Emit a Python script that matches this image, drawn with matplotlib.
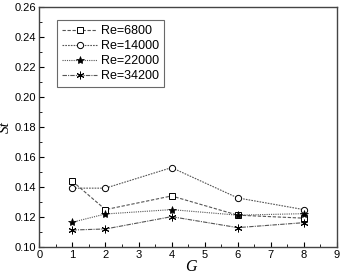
import matplotlib
matplotlib.use("Agg")
import matplotlib.pyplot as plt
from matplotlib.ticker import MultipleLocator

# ── data ──
G = [1, 2, 4, 6, 8]
st_6800 = [0.1436, 0.1247, 0.1338, 0.1210, 0.1190]
st_14000 = [0.1390, 0.1390, 0.1527, 0.1325, 0.1247]
st_22000 = [0.1163, 0.1218, 0.1247, 0.1210, 0.1220]
st_34200 = [0.1111, 0.1118, 0.1200, 0.1127, 0.1160]
labels = ["Re=6800", "Re=14000", "Re=22000", "Re=34200"]

plt.rcParams["font.family"] = ["Liberation Sans", "DejaVu Sans"]
fig = plt.figure(figsize=(3.42, 2.75), dpi=100)
ax = fig.add_axes([0.115, 0.103, 0.87, 0.873])

lc = "#555555"
ax.plot(G, st_6800, ls=(0, (3, 1.5)), lw=0.8, color=lc, marker="s", ms=4.5,
        mfc="white", mec="black", mew=0.7, label=labels[0])
ax.plot(G, st_14000, ls=(0, (1.5, 1)), lw=0.8, color=lc, marker="o", ms=4.5,
        mfc="white", mec="black", mew=0.7, label=labels[1])
ax.plot(G, st_22000, ls=(0, (1, 1)), lw=0.8, color=lc, marker="*", ms=6,
        mfc="black", mec="black", mew=0.5, label=labels[2])
ax.plot(G, st_34200, ls=(0, (4, 1, 1, 1)), lw=0.8, color=lc, marker=(6, 2, 0), ms=5.5,
        mfc="black", mec="black", mew=0.7, label=labels[3])

ax.set_xlim(0, 9)
ax.set_ylim(0.10, 0.26)
ax.xaxis.set_major_locator(MultipleLocator(1))
ax.xaxis.set_minor_locator(MultipleLocator(0.5))
ax.yaxis.set_major_locator(MultipleLocator(0.02))
ax.yaxis.set_minor_locator(MultipleLocator(0.01))
ax.yaxis.set_major_formatter(matplotlib.ticker.FormatStrFormatter("%.2f"))
ax.tick_params(which="both", direction="in", top=False, right=False, labelsize=8, pad=2.5)
ax.tick_params(which="major", length=3.5)
ax.tick_params(which="minor", length=2)
for s in ax.spines.values():
    s.set_color("#444444")
    s.set_linewidth(1.0)

ax.set_xlabel("G", fontsize=11.5, fontstyle="italic", family="Liberation Serif")
ax.set_ylabel("St", fontsize=11, fontstyle="italic", family="Liberation Serif")
ax.xaxis.set_label_coords(0.51, -0.052)
ax.yaxis.set_label_coords(-0.092, 0.5)

leg = ax.legend(loc="upper left", bbox_to_anchor=(0.04, 0.97), fontsize=9,
                frameon=True, fancybox=False, edgecolor="#444444",
                handlelength=2.8, handletextpad=0.3, borderpad=0.4,
                labelspacing=0.25)
leg.get_frame().set_linewidth(0.8)

fig.savefig("out.png", dpi=100)
